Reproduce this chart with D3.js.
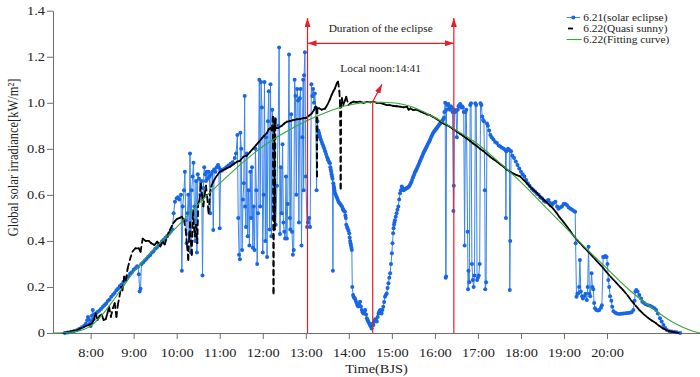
<!DOCTYPE html>
<html>
<head>
<meta charset="utf-8">
<script src="https://cdn.jsdelivr.net/npm/d3@7"></script>
<style>
  body { margin: 0; background: #fff; }
  svg { display: block; font-family: "Liberation Serif", "Times New Roman", serif; }
</style>
</head>
<body>
<svg id="chart" width="700" height="377"></svg>
<script>
// hours of day (decimal) on x, irradiance in kW/m2 on y
const hourTicks = [8, 9, 10, 11, 12, 13, 14, 15, 16, 17, 18, 19, 20];
const hourLabels = ["8:00", "9:00", "10:00", "11:00", "12:00", "13:00", "14:00",
  "15:00", "16:00", "17:00", "18:00", "19:00", "20:00"];
const yTicks = [0, 0.2, 0.4, 0.6, 0.8, 1.0, 1.2, 1.4];
const yLabels = ["0", "0.2", "0.4", "0.6", "0.8", "1.0", "1.2", "1.4"];

// eclipse window (start, end) and local noon marker, in hours
const eclipseWindow = [13.04, 16.44];
const noonArrow = [[14.555, 0], [14.555, 1.005], [14.77, 1.08]];

// 6.21 (solar eclipse) — split by part of the day
const blueDawn = [
  [7.40,0.000],[7.47,0.002],[7.54,0.005],[7.61,0.008],[7.68,0.012],[7.74,0.018],[7.80,0.025],
  [7.85,0.032],[7.89,0.040],[7.92,0.055],[7.94,0.070],[7.96,0.060],[7.98,0.040],[8.00,0.030],
  [8.02,0.050],[8.03,0.075],[8.05,0.100],[8.07,0.060],[8.09,0.080],[8.12,0.085],[8.16,0.091],
  [8.20,0.097],[8.24,0.104],[8.28,0.113],[8.32,0.121],[8.36,0.128],[8.40,0.139],[8.44,0.146],
  [8.48,0.157],[8.52,0.166],[8.56,0.174],[8.60,0.186],[8.64,0.193],[8.68,0.204],[8.72,0.211],
  [8.76,0.222],[8.80,0.229],[8.84,0.240],[8.88,0.247],[8.92,0.258],[8.96,0.264],[9.00,0.275],
  [9.04,0.281],[9.08,0.290],[9.10,0.288],[9.12,0.255],[9.14,0.180],[9.16,0.192],[9.18,0.300],
  [9.22,0.306],[9.26,0.315],[9.30,0.322],[9.34,0.331],[9.38,0.338],[9.42,0.349],[9.46,0.355],
  [9.50,0.366],[9.54,0.371],[9.58,0.382],[9.62,0.388],[9.66,0.398],[9.70,0.405],[9.74,0.414],
  [9.78,0.421],[9.82,0.431],[9.86,0.440],[9.90,0.450]
];
const blueMorning = [
  [9.93,0.520],[9.96,0.570],[10.00,0.585],[10.03,0.590],[10.06,0.580],[10.10,0.600],[10.12,0.270],
  [10.14,0.550],[10.17,0.620],[10.19,0.700],[10.21,0.490],[10.23,0.390],[10.25,0.520],[10.27,0.600],
  [10.29,0.430],[10.31,0.780],[10.33,0.350],[10.35,0.620],[10.37,0.680],[10.39,0.740],[10.41,0.550],
  [10.43,0.400],[10.45,0.660],[10.47,0.350],[10.49,0.690],[10.52,0.670],[10.55,0.600],[10.58,0.660],
  [10.60,0.250],[10.62,0.630],[10.64,0.720],[10.66,0.690],[10.68,0.660],[10.70,0.700],[10.72,0.670],
  [10.74,0.700],[10.76,0.680],[10.78,0.520],[10.80,0.690],[10.83,0.700],[10.85,0.447],[10.87,0.710],
  [10.90,0.700],[10.93,0.720],[10.96,0.730],[10.98,0.720],[11.00,0.455],[11.02,0.710],[11.05,0.705],
  [11.10,0.712],[11.15,0.720],[11.20,0.728],[11.25,0.735],[11.30,0.742],[11.35,0.760],[11.38,0.780]
];
const blueMidday = [
  [11.41,0.860],[11.43,0.500],[11.45,0.340],[11.47,0.320],[11.48,0.870],[11.50,0.800],[11.52,0.360],
  [11.54,0.580],[11.56,0.650],[11.58,1.030],[11.59,0.550],[11.61,0.460],[11.63,0.780],[11.65,0.420],
  [11.67,0.620],[11.69,0.380],[11.71,0.700],[11.73,0.500],[11.75,0.720],[11.77,0.370],[11.79,0.550],
  [11.81,0.360],[11.83,0.800],[11.85,0.620],[11.87,0.300],[11.89,0.520],[11.92,1.100],[11.94,0.550],
  [11.96,1.090],[11.98,0.980],[12.00,0.350],[12.02,0.600],[12.04,1.090],[12.06,0.400],[12.08,0.850],
  [12.10,0.330],[12.12,0.920],[12.14,1.050],[12.16,0.450],[12.18,1.080],[12.20,0.420],[12.22,0.970],
  [12.24,0.500],[12.26,0.550],[12.28,0.930],[12.30,0.470],[12.33,0.640],[12.36,0.900],[12.38,1.240],
  [12.40,0.430],[12.42,0.720],[12.44,0.520],[12.46,0.820],[12.48,0.480],[12.50,0.440],[12.52,0.410],
  [12.54,0.680],[12.56,0.410],[12.58,0.560],[12.61,1.210],[12.63,0.500],[12.64,0.450],[12.66,0.950],
  [12.68,0.440],[12.70,0.340],[12.72,0.360],[12.74,1.100],[12.76,1.030],[12.78,0.600],[12.80,1.060],
  [12.82,1.010],[12.84,0.480],[12.86,1.020],[12.88,1.060],[12.90,0.380],[12.92,0.850],[12.94,1.100],
  [12.95,0.620],[12.96,1.120],[12.98,1.220],[13.00,0.680],[13.03,0.460],[13.05,0.480],[13.08,0.500],
  [13.10,0.460],[13.13,1.080],[13.15,1.030],[13.17,1.060],[13.19,1.000],[13.21,1.040],[13.23,0.980],
  [13.25,0.620],[13.27,0.920]
];
const blueEclipse = [
  [13.29,0.880],[13.30,0.872],[13.31,0.865],[13.32,0.857],[13.33,0.850],[13.35,0.840],[13.37,0.830],
  [13.39,0.820],[13.41,0.810],[13.43,0.800],[13.45,0.790],[13.47,0.778],[13.49,0.766],[13.51,0.757],
  [13.52,0.750],[13.54,0.743],[13.56,0.737],[13.57,0.720],[13.58,0.710],[13.59,0.700],[13.60,0.690],
  [13.61,0.680],[13.62,0.670],[13.63,0.270],[13.64,0.650],[13.65,0.640],[13.66,0.630],[13.67,0.618],
  [13.68,0.607],[13.70,0.598],[13.72,0.590],[13.74,0.580],[13.76,0.570],[13.78,0.565],[13.80,0.560],
  [13.82,0.555],[13.84,0.550],[13.86,0.540],[13.87,0.534],[13.89,0.530],[13.91,0.527],[13.92,0.510],
  [13.93,0.500],[13.94,0.470],[13.96,0.460],[13.97,0.455],[13.99,0.445],[14.01,0.433],[14.02,0.415],
  [14.03,0.400],[14.04,0.390],[14.05,0.380],[14.06,0.370],[14.07,0.360],[14.08,0.200],[14.10,0.165],
  [14.11,0.158],[14.13,0.152],[14.14,0.150],[14.16,0.140],[14.18,0.130],[14.20,0.120],[14.22,0.115],
  [14.24,0.125],[14.26,0.136],[14.28,0.115],[14.30,0.100],[14.32,0.090],[14.34,0.085],[14.36,0.095],
  [14.38,0.100],[14.40,0.080],[14.42,0.064],[14.44,0.055],[14.45,0.050],[14.47,0.042],[14.49,0.035],
  [14.51,0.028],[14.53,0.020],[14.55,0.040],[14.57,0.035],[14.59,0.050],[14.61,0.060],[14.63,0.055],
  [14.65,0.050],[14.67,0.070],[14.69,0.085],[14.71,0.095],[14.73,0.100],[14.75,0.090],[14.76,0.085],
  [14.78,0.100],[14.80,0.114],[14.82,0.135],[14.84,0.158],[14.86,0.165],[14.88,0.172],[14.90,0.195],
  [14.92,0.216],[14.94,0.240],[14.96,0.260],[14.98,0.300],[15.00,0.346],[15.015,0.390],[15.03,0.433],
  [15.04,0.455],[15.05,0.470],[15.06,0.480],[15.07,0.490],[15.09,0.505],[15.11,0.520],[15.13,0.535],
  [15.15,0.550],[15.17,0.580],[15.19,0.607],[15.21,0.620],[15.23,0.636],[15.25,0.628],[15.27,0.620],
  [15.29,0.622],[15.31,0.625],[15.33,0.628],[15.35,0.630],[15.37,0.632],[15.39,0.635],[15.41,0.640],
  [15.43,0.647],[15.45,0.655],[15.47,0.665],[15.49,0.675],[15.51,0.685],[15.53,0.695],[15.55,0.703],
  [15.57,0.710],[15.59,0.718],[15.61,0.727],[15.63,0.735],[15.65,0.745],[15.67,0.753],[15.69,0.762],
  [15.71,0.770],[15.73,0.780],[15.75,0.788],[15.77,0.795],[15.79,0.803],[15.81,0.810],[15.83,0.818],
  [15.85,0.825],[15.87,0.832],[15.89,0.840],[15.91,0.850],[15.93,0.858],[15.95,0.866],[15.97,0.872],
  [15.99,0.877],[16.01,0.882],[16.03,0.887],[16.05,0.892],[16.07,0.897],[16.09,0.902],[16.11,0.907],
  [16.13,0.912],[16.15,0.917],[16.17,0.922],[16.19,0.927],[16.21,0.935],[16.22,0.960]
];
const blueAfternoon = [
  [16.24,1.000],[16.25,0.240],[16.26,0.245],[16.27,0.970],[16.29,0.990],[16.31,0.995],[16.33,0.975],
  [16.35,0.970],[16.37,0.985],[16.39,0.980],[16.41,0.960],[16.43,0.530],[16.44,0.640],[16.45,0.970],
  [16.47,0.960],[16.49,0.965],[16.51,0.850],[16.53,0.970],[16.55,0.985],[16.57,0.990],[16.59,0.995],
  [16.61,0.980],[16.63,0.985],[16.65,0.980],[16.67,0.960],[16.69,0.380],[16.71,0.960],[16.73,0.970],
  [16.76,0.440],[16.77,0.190],[16.78,0.270],[16.80,0.220],[16.82,0.990],[16.84,0.998],[16.86,0.300],
  [16.88,0.230],[16.90,0.200],[16.92,0.250],[16.94,0.998],[16.96,0.990],[16.98,0.230],[17.00,0.240],
  [17.02,0.250],[17.04,0.300],[17.06,0.998],[17.08,0.990],[17.10,0.940],[17.12,0.925],[17.14,0.920],
  [17.16,0.620],[17.17,0.190],[17.19,0.220],[17.21,0.910],[17.23,0.900],[17.26,0.880],[17.29,0.860],
  [17.32,0.850],[17.36,0.840],[17.40,0.830],[17.44,0.825],[17.48,0.815],[17.52,0.810],[17.56,0.805],
  [17.60,0.800],[17.64,0.795],[17.65,0.500],[17.66,0.790],[17.70,0.800],[17.73,0.795],[17.74,0.187],
  [17.75,0.400],[17.77,0.790],[17.80,0.770],[17.84,0.760],[17.88,0.745],[17.92,0.730],[17.96,0.715],
  [18.00,0.700],[18.04,0.690],[18.08,0.680],[18.12,0.665],[18.16,0.650],[18.20,0.640],[18.25,0.628],
  [18.29,0.620],[18.33,0.614],[18.37,0.605],[18.41,0.600],[18.45,0.590],[18.49,0.585],[18.53,0.575],
  [18.57,0.570],[18.61,0.575],[18.64,0.578],[18.68,0.565],[18.72,0.556],[18.76,0.565],[18.80,0.570],
  [18.84,0.550],[18.87,0.540],[18.91,0.545],[18.95,0.550],[18.99,0.560],[19.03,0.560],[19.07,0.555],
  [19.11,0.545],[19.15,0.540],[19.19,0.535],[19.23,0.530],[19.26,0.527]
];
const blueEvening = [
  [19.27,0.390],[19.29,0.158],[19.31,0.170],[19.33,0.172],[19.35,0.200],[19.37,0.317],[19.39,0.180],
  [19.42,0.160],[19.44,0.150],[19.47,0.160],[19.50,0.170],[19.53,0.143],[19.55,0.200],[19.57,0.375],
  [19.59,0.170],[19.61,0.160],[19.64,0.260],[19.66,0.200],[19.68,0.190],[19.70,0.130],[19.72,0.107],
  [19.75,0.100],[19.79,0.098],[19.82,0.100],[19.86,0.110],[19.88,0.120],[19.91,0.330],[19.93,0.330],
  [19.96,0.335],[19.99,0.330],[20.01,0.300],[20.03,0.230],[20.05,0.200],[20.07,0.160],[20.10,0.140],
  [20.12,0.114],[20.15,0.095],[20.19,0.088],[20.23,0.085],[20.28,0.083],[20.33,0.084],[20.38,0.085],
  [20.43,0.086],[20.48,0.087],[20.53,0.088],[20.57,0.090],[20.61,0.100],[20.64,0.140],[20.66,0.180],
  [20.68,0.187],[20.71,0.180],[20.75,0.165],[20.79,0.150],[20.82,0.136],[20.86,0.130],[20.90,0.125],
  [20.95,0.120],[21.00,0.118],[21.05,0.113],[21.10,0.108],[21.14,0.100],[21.18,0.085],[21.23,0.064],
  [21.27,0.050],[21.31,0.035],[21.35,0.022],[21.39,0.013],[21.45,0.008],[21.51,0.006],[21.57,0.004],
  [21.62,0.003],[21.70,0.000]
];

// 6.22 (quasi sunny)
const blackDay = [
  [7.37,0.000],[7.52,0.006],[7.68,0.013],[7.83,0.025],[7.95,0.035],[8.03,0.040],[8.08,0.060],
  [8.12,0.085],[8.16,0.056],[8.21,0.075],[8.26,0.080],[8.30,0.056],[8.35,0.060],[8.39,0.085],
  [8.43,0.114],[8.47,0.070],[8.52,0.108],[8.56,0.130],[8.60,0.070],[8.63,0.120],[8.67,0.158],
  [8.71,0.200],[8.74,0.185],[8.78,0.245],[8.82,0.230],[8.86,0.280],[8.91,0.317],[8.97,0.353],
  [9.04,0.368],[9.12,0.368],[9.16,0.353],[9.21,0.410],[9.28,0.400],[9.35,0.400],[9.41,0.390],
  [9.48,0.382],[9.55,0.397],[9.62,0.375],[9.67,0.397],[9.72,0.385],[9.78,0.418],[9.84,0.447],
  [9.92,0.477],[10.00,0.495],[10.07,0.500],[10.12,0.505],[10.17,0.490],[10.21,0.447],[10.24,0.380],
  [10.27,0.317],[10.29,0.420],[10.31,0.480],[10.33,0.400],[10.35,0.340],[10.38,0.534],[10.40,0.460],
  [10.42,0.420],[10.45,0.470],[10.48,0.390],[10.50,0.560],[10.53,0.578],[10.56,0.650],[10.59,0.600],
  [10.62,0.550],[10.65,0.600],[10.68,0.640],[10.71,0.590],[10.74,0.520],[10.77,0.600],[10.80,0.636],
  [10.85,0.657],[10.92,0.680],[11.00,0.700],[11.08,0.708],[11.16,0.715],[11.24,0.722],[11.32,0.733],
  [11.40,0.744],[11.47,0.748],[11.55,0.766],[11.63,0.770],[11.70,0.785],[11.77,0.800],[11.84,0.815],
  [11.91,0.830],[11.98,0.846],[12.04,0.858],[12.09,0.867],[12.14,0.885],[12.18,0.890],[12.21,0.880],
  [12.235,0.940],[12.25,0.172],[12.265,0.920],[12.28,0.450],[12.295,0.930],[12.31,0.890],[12.36,0.890],
  [12.44,0.900],[12.50,0.910],[12.56,0.918],[12.63,0.920],[12.71,0.925],[12.79,0.928],[12.87,0.930],
  [12.95,0.933],[13.02,0.935],[13.08,0.945],[13.14,0.954],[13.19,0.969],[13.23,0.983],[13.25,0.976],
  [13.26,0.680],[13.27,0.976],[13.31,0.976],[13.37,0.970],[13.45,0.975],[13.52,0.998],[13.56,1.015],
  [13.60,1.034],[13.64,1.050],[13.68,1.063],[13.72,1.085],[13.75,1.092],[13.78,1.050],[13.795,1.000],
  [13.81,0.628],[13.825,1.010],[13.84,1.020],[13.87,0.990],[13.91,1.010],[13.94,1.026],[13.99,0.990],
  [14.05,1.000],[14.11,1.005],[14.18,1.003],[14.26,1.005],[14.34,1.000],[14.42,1.004],[14.50,1.002],
  [14.57,1.005],[14.65,1.000],[14.73,1.000],[14.80,0.995],[14.88,0.990],[14.95,0.990],[15.03,0.987],
  [15.11,0.985],[15.19,0.983],[15.27,0.980],[15.35,0.983],[15.39,0.970],[15.43,0.975],[15.50,0.968],
  [15.58,0.970],[15.66,0.962],[15.73,0.957],[15.81,0.950],[15.89,0.946],[15.96,0.938],[16.04,0.930],
  [16.12,0.920],[16.20,0.910],[16.28,0.903],[16.35,0.896],[16.43,0.885],[16.51,0.875],[16.58,0.866],
  [16.66,0.856],[16.74,0.845],[16.82,0.834],[16.89,0.823],[16.97,0.812],[17.05,0.800],[17.13,0.790],
  [17.20,0.778],[17.28,0.766],[17.36,0.755],[17.44,0.745],[17.52,0.733],[17.60,0.722],[17.67,0.710],
  [17.75,0.700],[17.83,0.692],[17.90,0.686],[17.98,0.680],[18.06,0.665],[18.14,0.650],[18.21,0.636],
  [18.29,0.622],[18.37,0.608],[18.44,0.594],[18.52,0.580],[18.60,0.567],[18.67,0.553],[18.75,0.540],
  [18.83,0.521],[18.90,0.502],[18.98,0.484],[19.06,0.465],[19.13,0.447],[19.21,0.425],[19.30,0.405],
  [19.40,0.385],[19.50,0.365],[19.60,0.346],[19.70,0.325],[19.80,0.305],[19.90,0.285],[19.98,0.266],
  [20.08,0.245],[20.18,0.225],[20.28,0.205],[20.37,0.187],[20.47,0.165],[20.56,0.142],[20.66,0.120],
  [20.75,0.100],[20.85,0.082],[20.95,0.066],[21.05,0.053],[21.14,0.042],[21.22,0.030],[21.30,0.020],
  [21.37,0.013],[21.45,0.008],[21.55,0.004],[21.68,0.000]
];

// 6.22 fitting curve
const greenFit = [
  [7.13,0.000],[7.50,0.003],[7.75,0.010],[8.00,0.030],[8.25,0.075],[8.50,0.135],[8.75,0.200],
  [9.00,0.265],[9.25,0.320],[9.50,0.370],[9.75,0.415],[10.00,0.460],[10.50,0.560],[11.00,0.650],
  [11.50,0.735],[12.00,0.810],[12.50,0.870],[13.00,0.920],[13.50,0.960],[14.00,0.990],[14.50,1.003],
  [15.00,1.000],[15.50,0.980],[16.00,0.935],[16.50,0.880],[17.00,0.820],[17.50,0.740],[18.00,0.655],
  [18.50,0.560],[19.00,0.465],[19.50,0.370],[20.00,0.280],[20.50,0.190],[21.00,0.115],[21.50,0.050],
  [22.00,0.008],[22.16,0.000]
];

const STRETCH = 1.2;   // the source figure is a bit wide, text included
const RED = "#e61e28";
const BLUE_LINE = "#3a84ee";
const BLUE_DOT = "#1766e6";
const GREEN = "#3aa63a";
const AXIS = "#6e6e6e";
const INK = "#222";

const svg = d3.select("#chart");
const x = d3.scaleLinear().domain([7.126, 22.16]).range([53, 700]);
const y = d3.scaleLinear().domain([0, 1.4]).range([333, 10.7]);

function wideText(parent, px, py, str, size, anchor) {
  return parent.append("text")
    .attr("transform", `translate(${px},${py}) scale(${STRETCH},1)`)
    .attr("font-size", size)
    .attr("fill", INK)
    .attr("text-anchor", anchor || "start")
    .text(str);
}

const defs = svg.append("defs");
defs.append("marker")
  .attr("id", "redHead")
  .attr("viewBox", "0 0 9 6")
  .attr("refX", 9).attr("refY", 3)
  .attr("markerWidth", 9).attr("markerHeight", 6)
  .attr("markerUnits", "userSpaceOnUse")
  .attr("orient", "auto-start-reverse")
  .append("path").attr("d", "M0,0 L9,3 L0,6 Z").attr("fill", RED);

// axes
const xAxis = svg.append("g")
  .attr("transform", `translate(0,${y(0)})`)
  .call(d3.axisBottom(x).tickValues(hourTicks)
    .tickFormat((d, i) => hourLabels[i]).tickSize(6).tickSizeOuter(0));
const yAxis = svg.append("g")
  .attr("transform", `translate(${x.range()[0]},0)`)
  .call(d3.axisLeft(y).tickValues(yTicks)
    .tickFormat((d, i) => yLabels[i]).tickSize(6).tickSizeOuter(0));

[xAxis, yAxis].forEach(g => {
  g.select(".domain").attr("stroke", AXIS);
  g.selectAll(".tick line").attr("stroke", AXIS);
  g.selectAll(".tick text")
    .attr("font-family", "Liberation Serif, serif")
    .attr("font-size", 12)
    .attr("fill", INK)
    .attr("transform", `scale(${STRETCH},1)`);
});
xAxis.selectAll(".tick text").attr("y", 15);
yAxis.selectAll(".tick text").attr("x", -8 / STRETCH);

wideText(svg, (x.range()[0] + x.range()[1]) / 2, 373, "Time(BJS)", 12, "middle");
svg.append("text")
  .attr("transform", `translate(13,157.5) scale(${STRETCH},1) rotate(-90)`)
  .attr("font-size", 12.5)
  .attr("fill", INK)
  .attr("text-anchor", "middle")
  .attr("dy", "0.35em")
  .text("Global solar irradiance[kW/m²]");

// series
const allBlue = [].concat(blueDawn, blueMorning, blueMidday, blueEclipse, blueAfternoon, blueEvening);
const line = d3.line().x(d => x(d[0])).y(d => y(d[1]));

const gBlue = svg.append("g");
gBlue.append("path")
  .attr("d", line(allBlue))
  .attr("fill", "none")
  .attr("stroke", BLUE_LINE)
  .attr("stroke-width", 1);
gBlue.selectAll("circle")
  .data(allBlue)
  .join("circle")
  .attr("cx", d => x(d[0]))
  .attr("cy", d => y(d[1]))
  .attr("r", 2)
  .attr("fill", BLUE_DOT);

// Origin restarts the dash at every segment: short steps look solid, long drops dashed
svg.append("g").selectAll("line")
  .data(d3.pairs(blackDay))
  .join("line")
  .attr("x1", d => x(d[0][0])).attr("y1", d => y(d[0][1]))
  .attr("x2", d => x(d[1][0])).attr("y2", d => y(d[1][1]))
  .attr("stroke", "#000")
  .attr("stroke-width", 1.8)
  .attr("stroke-linecap", "round")
  .attr("stroke-dasharray", "5,4");

svg.append("path")
  .attr("d", d3.line().x(d => x(d[0])).y(d => y(d[1])).curve(d3.curveMonotoneX)(greenFit))
  .attr("fill", "none")
  .attr("stroke", GREEN)
  .attr("stroke-width", 1.1);

// eclipse annotations
const topV = y.invert(18);
const gRed = svg.append("g");
eclipseWindow.forEach(t => {
  gRed.append("line")
    .attr("x1", x(t)).attr("x2", x(t))
    .attr("y1", y(0)).attr("y2", y(topV))
    .attr("stroke", RED).attr("stroke-width", 1.2)
    .attr("marker-end", "url(#redHead)");
});
gRed.append("line")
  .attr("x1", x(eclipseWindow[0])).attr("x2", x(eclipseWindow[1]))
  .attr("y1", 43.3).attr("y2", 43.3)
  .attr("stroke", RED).attr("stroke-width", 1.2)
  .attr("marker-start", "url(#redHead)")
  .attr("marker-end", "url(#redHead)");
gRed.append("path")
  .attr("d", line(noonArrow))
  .attr("fill", "none")
  .attr("stroke", RED).attr("stroke-width", 1.2)
  .attr("marker-end", "url(#redHead)");

const midX = (x(eclipseWindow[0]) + x(eclipseWindow[1])) / 2;
wideText(svg, midX, 32, "Duration of the eclipse", 9.5, "middle");
wideText(svg, midX, 71.5, "Local noon:14:41", 9.5, "middle");

// legend
const lg = svg.append("g");
const rowY = [17.5, 28.5, 39.5];
lg.append("line").attr("x1", 566.7).attr("x2", 580).attr("y1", rowY[0]).attr("y2", rowY[0])
  .attr("stroke", BLUE_LINE).attr("stroke-width", 1);
lg.append("circle").attr("cx", 573.3).attr("cy", rowY[0]).attr("r", 2).attr("fill", BLUE_DOT);
lg.append("line").attr("x1", 568).attr("x2", 573).attr("y1", rowY[1]).attr("y2", rowY[1])
  .attr("stroke", "#000").attr("stroke-width", 1.8);
lg.append("line").attr("x1", 566.7).attr("x2", 581.7).attr("y1", rowY[2]).attr("y2", rowY[2])
  .attr("stroke", GREEN).attr("stroke-width", 1.1);
wideText(lg, 583.3, rowY[0] + 3.3, "6.21(solar eclipse)", 9.5);
wideText(lg, 583.3, rowY[1] + 3.3, "6.22(Quasi sunny)", 9.5);
wideText(lg, 583.3, rowY[2] + 3.3, "6.22(Fitting curve)", 9.5);
</script>
</body>
</html>
